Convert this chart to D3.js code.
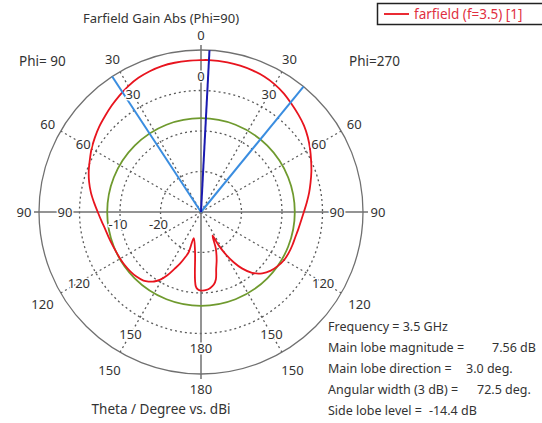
<!DOCTYPE html>
<html>
<head>
<meta charset="utf-8">
<script src="https://cdn.jsdelivr.net/npm/d3@7"></script>
<style>
  body { margin: 0; background: #fff; }
  svg { display: block; }
  text { font-family: "Noto Sans", sans-serif; font-size: 13px; fill: #333; }
</style>
</head>
<body>
<svg id="chart" width="542" height="423"></svg>
<script>
// Farfield gain cut, Phi = 90 plane (left half) and Phi = 270 plane (right half), in dBi
const thetaPhi90 = [0, 5, 10, 15, 20, 25, 30, 35, 40, 45, 50, 55, 60, 65, 70, 75, 80, 85, 90,
                    95, 100, 105, 110, 115, 120, 125, 130, 135, 140, 143, 146, 149, 152, 155, 158,
                    161, 163, 164.5, 171, 173, 174, 175, 176, 177.5, 180];
const gainPhi90  = [7.50, 7.48, 7.42, 7.30, 7.00, 6.55, 5.90, 5.10, 4.30, 3.50, 2.80, 2.00, 1.20, 0.30,
                    -0.50, -1.40, -2.40, -3.50, -4.50, -5.30, -5.95, -6.35, -6.65, -6.85, -6.95, -7.05,
                    -7.20, -7.45, -7.90, -8.50, -9.30, -10.50, -12.30, -14.50, -16.30, -18.30, -19.60,
                    -23.30, -20.50, -18.00, -15.60, -13.10, -11.60, -10.90, -10.60];

const thetaPhi270 = [0, 3, 10, 15, 20, 25, 30, 35, 40, 45, 50, 55, 60, 65, 70, 75, 80, 85, 90,
                     95, 100, 105, 110, 115, 120, 125, 130, 135, 140, 144, 147, 150, 152, 154,
                     158, 162, 165, 167.5, 170, 173, 176, 180];
const gainPhi270  = [7.50, 7.56, 7.50, 7.40, 7.20, 6.90, 6.40, 5.70, 4.80, 4.00, 3.20, 2.20, 1.10, 0.00,
                     -1.00, -2.00, -2.90, -3.80, -4.60, -5.20, -5.60, -5.90, -6.00, -6.10, -6.30, -6.80,
                     -7.50, -8.60, -10.40, -12.80, -15.20, -18.20, -20.60, -23.50,
                     -20.20, -17.50, -15.50, -13.00, -11.80, -11.10, -10.70, -10.60];

// Summary values
const frequencyGHz = 3.5;
const mainLobeMagnitude = 7.56;   // dBi
const mainLobeDirection = 3.0;    // deg
const angularWidth = 72.5;        // deg (3 dB)
const sideLobeLevel = -14.4;      // dB relative to main lobe

// Grid
const radialTicks = [-20, -10, 0];
const radialTickLabels = ["-20", "-10"];
const angleTicks = [0, 30, 60, 90, 120, 150, 180];
const radialDomain = [-30, 10];

const svg = d3.select("#chart");
const cx = 201, cy = 212, R = 162;
const rScale = d3.scaleLinear().domain(radialDomain).range([0, R]);
const rad = d => d * Math.PI / 180;
const px = (a, r) => cx + r * Math.sin(rad(a));
const py = (a, r) => cy - r * Math.cos(rad(a));

const g = svg.append("g");
const gridColor = "#5a5a5a";

// dotted dB circles
g.selectAll("circle.grid").data(radialTicks).join("circle")
  .attr("cx", cx).attr("cy", cy).attr("r", d => rScale(d))
  .attr("fill", "none").attr("stroke", gridColor).attr("stroke-width", 1.3)
  .attr("stroke-dasharray", "2,3");

// dotted angle spokes
const spokes = angleTicks.filter(a => a % 90 !== 0).flatMap(a => [a, -a]);
g.selectAll("line.spoke").data(spokes).join("line")
  .attr("x1", cx).attr("y1", cy)
  .attr("x2", d => px(d, R)).attr("y2", d => py(d, R))
  .attr("stroke", gridColor).attr("stroke-width", 1.3).attr("stroke-dasharray", "2,3");

// solid axes
const axisAngles = [0, 90, 180, -90];
g.selectAll("line.axis").data(axisAngles).join("line")
  .attr("x1", cx).attr("y1", cy)
  .attr("x2", d => px(d, R + 5)).attr("y2", d => py(d, R + 5))
  .attr("stroke", "#707070").attr("stroke-width", 1.5);

// outer ring
g.append("circle").attr("cx", cx).attr("cy", cy).attr("r", rScale(radialDomain[1]))
  .attr("fill", "none").attr("stroke", "#707070").attr("stroke-width", 1.3);

// side lobe level ring
g.append("circle").attr("cx", cx).attr("cy", cy)
  .attr("r", rScale(mainLobeMagnitude + sideLobeLevel))
  .attr("fill", "none").attr("stroke", "#6f9a2e").attr("stroke-width", 1.8);

// gain pattern: Phi=270 on the right (clockwise), Phi=90 on the left
const right = thetaPhi270.map((t, i) => ({ a: t, v: gainPhi270[i] }));
const left = thetaPhi90.map((t, i) => ({ a: -t, v: gainPhi90[i] }))
  .filter(d => d.a !== 0 && d.a !== -180).reverse();
const loop = right.concat(left);
const lineR = d3.lineRadial()
  .angle(d => rad(d.a)).radius(d => rScale(d.v))
  .curve(d3.curveCatmullRomClosed.alpha(0.5));
g.append("path").attr("transform", `translate(${cx},${cy})`)
  .attr("d", lineR(loop))
  .attr("fill", "none").attr("stroke", "#e8141e").attr("stroke-width", 1.8)
  .attr("stroke-linejoin", "round");

// 3 dB beam edges and main lobe direction
const beamEdges = [mainLobeDirection - angularWidth / 2, mainLobeDirection + angularWidth / 2];
g.selectAll("line.edge").data(beamEdges).join("line")
  .attr("x1", cx).attr("y1", cy)
  .attr("x2", d => px(d, R)).attr("y2", d => py(d, R))
  .attr("stroke", "#3a8de0").attr("stroke-width", 2);
g.append("line")
  .attr("x1", cx).attr("y1", cy)
  .attr("x2", px(mainLobeDirection, R)).attr("y2", py(mainLobeDirection, R))
  .attr("stroke", "#1a1ab0").attr("stroke-width", 2);

// labels with white knockout
const halo = sel => sel.attr("stroke", "#fff").attr("stroke-width", 3)
  .attr("paint-order", "stroke").attr("stroke-linejoin", "round");

const lower = a => Math.abs(a) > 100 && Math.abs(a) < 170;
const sides = a => (a === 0 || a === 180) ? [a] : [-a, a];
const angleLabels = angleTicks.flatMap(a => sides(a).map(s => ({ a: s, t: String(a) })));

g.selectAll("text.inner").data(angleLabels).join("text")
  .attr("x", d => px(d.a, lower(d.a) ? 141 : 136))
  .attr("y", d => py(d.a, lower(d.a) ? 141 : 136))
  .attr("text-anchor", "middle").attr("dominant-baseline", "central")
  .text(d => d.t).call(halo);

g.selectAll("text.outer").data(angleLabels).join("text")
  .attr("x", d => px(d.a, lower(d.a) ? 183 : 177))
  .attr("y", d => py(d.a, lower(d.a) ? 183 : 177))
  .attr("text-anchor", "middle").attr("dominant-baseline", "central")
  .text(d => d.t).call(halo);

// dB labels along the left horizontal axis
g.selectAll("text.db").data(radialTickLabels).join("text")
  .attr("x", d => cx - rScale(+d) - 2).attr("y", cy + 17)
  .attr("text-anchor", "middle").text(d => d).call(halo);

// titles
svg.append("text").attr("x", 161).attr("y", 23).attr("text-anchor", "middle")
  .style("font-size", "13px").text("Farfield Gain Abs (Phi=90)");
svg.append("text").attr("x", 19).attr("y", 66).style("font-size", "13.5px").text("Phi= 90");
svg.append("text").attr("x", 349).attr("y", 66).style("font-size", "13.5px").text("Phi=270");
svg.append("text").attr("x", 161).attr("y", 414).attr("text-anchor", "middle")
  .style("font-size", "13.5px").text("Theta / Degree vs. dBi");

// legend
const lg = svg.append("g");
lg.append("rect").attr("x", 377.5).attr("y", 3.5).attr("width", 170).attr("height", 21)
  .attr("fill", "#fff").attr("stroke", "#222").attr("stroke-width", 1.5);
lg.append("line").attr("x1", 384).attr("x2", 409).attr("y1", 14).attr("y2", 14)
  .attr("stroke", "#e8141e").attr("stroke-width", 1.8);
lg.append("text").attr("x", 414).attr("y", 19).style("fill", "#e0303f").style("font-size", "13.5px")
  .text(`farfield (f=${frequencyGHz}) [1]`);

// summary block
const info = [
  { label: "Frequency = " + frequencyGHz + " GHz", value: "", vx: 0 },
  { label: "Main lobe magnitude =", value: mainLobeMagnitude.toFixed(2) + " dB", vx: 492 },
  { label: "Main lobe direction =", value: mainLobeDirection.toFixed(1) + " deg.", vx: 466 },
  { label: "Angular width (3 dB) =", value: angularWidth.toFixed(1) + " deg.", vx: 477 },
  { label: "Side lobe level =", value: sideLobeLevel.toFixed(1) + " dB", vx: 404 }
];
const infoY = [331, 352, 373, 394, 415];
info.forEach((d, i) => {
  const t = svg.append("text").attr("x", 328).attr("y", infoY[i]).style("font-size", "12.5px").text(d.label);
  if (d.value) {
    const end = 328 + t.node().getComputedTextLength();
    svg.append("text").attr("x", Math.max(d.vx, end + 7)).attr("y", infoY[i])
      .style("font-size", "12.5px").text(d.value);
  }
});
</script>
</body>
</html>
